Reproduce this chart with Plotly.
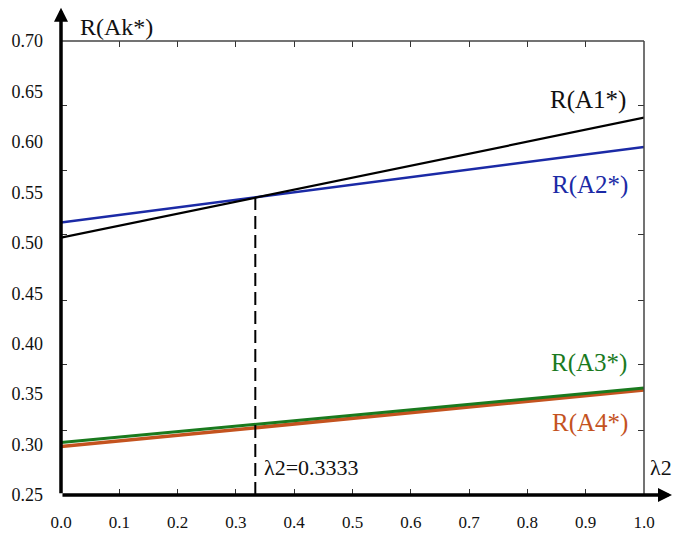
import plotly.graph_objects as go

# ---- data ----
lam2 = [0.0, 1.0]
R_A1 = [0.505, 0.624]
R_A2 = [0.520, 0.595]
R_A3 = [0.302, 0.356]
R_A4 = [0.298, 0.354]
lam_cross = 0.3333
x_ticks = [0.0, 0.1, 0.2, 0.3, 0.4, 0.5, 0.6, 0.7, 0.8, 0.9, 1.0]
x_ticktext = ["0.0", "0.1", "0.2", "0.3", "0.4", "0.5", "0.6", "0.7", "0.8", "0.9", "1.0"]
y_ticks = [0.25, 0.30, 0.35, 0.40, 0.45, 0.50, 0.55, 0.60, 0.65, 0.70]
y_ticktext = ["0.25", "0.30", "0.35", "0.40", "0.45", "0.50", "0.55", "0.60", "0.65", "0.70"]
# tick marks of the original frame (offset from the labels)
y_marks = [0.314, 0.379, 0.443, 0.508, 0.572, 0.6365]

# value at the crossing
def interp(ys, x):
    return ys[0] + (ys[1] - ys[0]) * (x - lam2[0]) / (lam2[1] - lam2[0])
cross_val = interp(R_A1, lam_cross)

SERIF = "'Liberation Serif', 'Times New Roman', serif"
C_BLACK = "#000000"
C_BLUE = "#1b2aa6"
C_GREEN = "#1a7a1e"
C_ORANGE = "#c4531f"

fig = go.Figure()
fig.add_trace(go.Scatter(x=lam2, y=R_A4, mode="lines", line=dict(color=C_ORANGE, width=3.5)))
fig.add_trace(go.Scatter(x=lam2, y=R_A3, mode="lines", line=dict(color=C_GREEN, width=3)))
fig.add_trace(go.Scatter(x=lam2, y=R_A2, mode="lines", line=dict(color=C_BLUE, width=2.5)))
fig.add_trace(go.Scatter(x=lam2, y=R_A1, mode="lines", line=dict(color=C_BLACK, width=2.2)))
fig.add_trace(go.Scatter(x=[lam_cross, lam_cross], y=[y_ticks[0], cross_val], mode="lines",
                         line=dict(color="black", width=2, dash="13px,6px"), yaxis="y2"))

fig.update_layout(
    width=673, height=534, autosize=False,
    margin=dict(l=61, r=29, t=41, b=39, pad=0),
    paper_bgcolor="white", plot_bgcolor="white",
    showlegend=False,
    xaxis=dict(range=[0, 1], tickvals=x_ticks, ticktext=x_ticktext, automargin=False,
               ticks="inside", ticklen=6, tickwidth=1, tickcolor="#333",
               mirror="ticks", showline=False, showgrid=False, zeroline=False,
               tickfont=dict(family=SERIF, size=17, color="#111"),
               ticklabelstandoff=15),
    yaxis=dict(range=[0.25, 0.70], tickvals=y_ticks, ticktext=y_ticktext, automargin=False,
               ticks="", showline=False, showgrid=False, zeroline=False,
               tickfont=dict(family=SERIF, size=18, color="#111"),
               ticklabelstandoff=17),
    yaxis2=dict(range=[0.25, 0.70], overlaying="y", side="left", anchor="x", automargin=False,
                tickvals=y_marks, showticklabels=False,
                ticks="inside", ticklen=6, tickwidth=1, tickcolor="#333",
                mirror="ticks", showline=False, showgrid=False, zeroline=False),
)

# frame: thin top and right borders
fig.add_shape(type="line", xref="paper", yref="paper", x0=0, x1=1, y0=1, y1=1,
              line=dict(color="#444", width=1.5))
fig.add_shape(type="line", xref="paper", yref="paper", x0=1, x1=1, y0=0, y1=1,
              line=dict(color="#444", width=1.5))

# thick axes with arrows
fig.add_annotation(xref="paper", yref="paper", x=0, y=1.073, ax=0, ay=487,
                   axref="pixel", ayref="pixel", text="", showarrow=True,
                   arrowhead=2, arrowsize=0.8, arrowwidth=3.5, arrowcolor="black")
fig.add_annotation(xref="paper", yref="paper", x=1.0497, y=0, ax=-612, ay=0,
                   axref="pixel", ayref="pixel", text="", showarrow=True,
                   arrowhead=2, arrowsize=0.8, arrowwidth=3.5, arrowcolor="black")

# labels
def label(text, x, y, color, size=25, xref="x", yref="y", xanchor="center"):
    fig.add_annotation(text=text, x=x, y=y, xref=xref, yref=yref, showarrow=False,
                       xanchor=xanchor, yanchor="middle",
                       font=dict(family=SERIF, size=size, color=color))

label("R(Ak*)", 0.029, 1.03, "#111", size=24, xref="paper", yref="paper", xanchor="left")
label("R(A1*)", 0.904, 0.6415, "#111")
label("R(A2*)", 0.907, 0.557, C_BLUE)
label("R(A3*)", 0.906, 0.381, C_GREEN)
label("R(A4*)", 0.907, 0.321, C_ORANGE)
label("λ2=0.3333", 0.345, 0.2768, "#111", size=22, xanchor="left")
label("λ2", 1.007, 0.2768, "#111", size=22, xref="paper", xanchor="left")

fig.write_html("out.html")
